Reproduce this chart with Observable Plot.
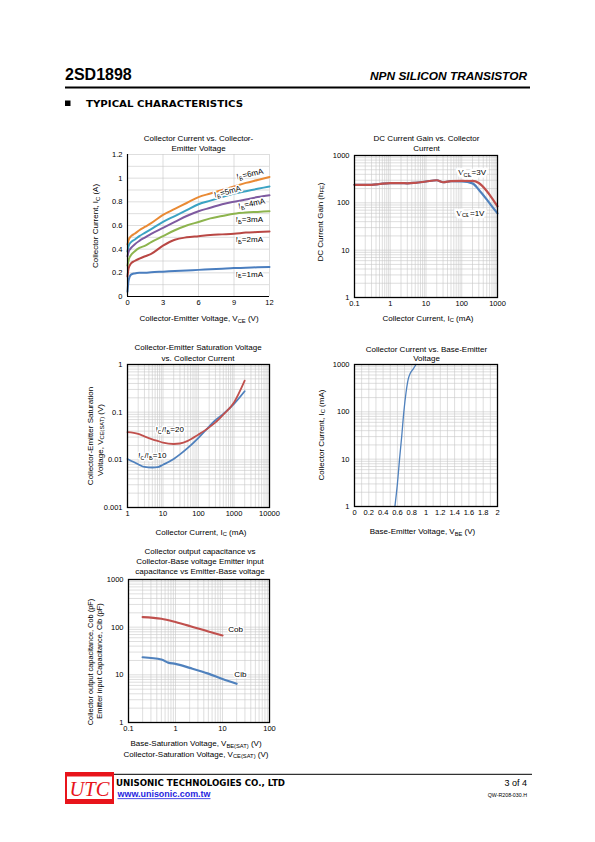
<!DOCTYPE html>
<html><head><meta charset="utf-8">
<script src="https://cdn.jsdelivr.net/npm/d3@7"></script>
<script src="https://cdn.jsdelivr.net/npm/@observablehq/plot@0.6"></script>
<style>
html,body{margin:0;padding:0;background:#fff;}
#page{position:relative;width:595px;height:842px;overflow:hidden;background:#fff;}
</style></head><body><div id="page"></div>
<script>
// ---------------- DATA ----------------
// Chart 1: Collector current vs collector-emitter voltage
const vce  = [0, 0.1, 0.3, 0.6, 1, 1.5, 2, 3, 4, 5, 6, 7, 8, 9, 10, 11, 12];
const ib6  = [0.44, 0.48, 0.51, 0.53, 0.56, 0.59, 0.62, 0.69, 0.74, 0.79, 0.84, 0.87, 0.90, 0.93, 0.96, 0.985, 1.01];
const ib5  = [0.38, 0.43, 0.46, 0.48, 0.51, 0.54, 0.57, 0.63, 0.68, 0.73, 0.78, 0.81, 0.84, 0.87, 0.89, 0.91, 0.93];
const ib4  = [0.34, 0.38, 0.41, 0.44, 0.47, 0.50, 0.53, 0.58, 0.63, 0.68, 0.72, 0.75, 0.78, 0.80, 0.82, 0.84, 0.855];
const ib3  = [0.26, 0.31, 0.35, 0.38, 0.41, 0.43, 0.46, 0.51, 0.56, 0.60, 0.63, 0.66, 0.68, 0.70, 0.71, 0.715, 0.72];
const ib2  = [0.17, 0.24, 0.28, 0.30, 0.32, 0.34, 0.36, 0.43, 0.48, 0.50, 0.51, 0.52, 0.525, 0.53, 0.54, 0.545, 0.55];
const ib1  = [0.04, 0.14, 0.185, 0.195, 0.20, 0.20, 0.205, 0.21, 0.215, 0.22, 0.225, 0.23, 0.235, 0.24, 0.243, 0.247, 0.25];
const ibNames = ["I_{B}=6mA", "I_{B}=5mA", "I_{B}=4mA", "I_{B}=3mA", "I_{B}=2mA", "I_{B}=1mA"];
const c1xTicks = [0, 3, 6, 9, 12];
const c1yTicks = [0, 0.2, 0.4, 0.6, 0.8, 1, 1.2];

// Chart 2: DC current gain vs collector current
const icGain = [0.1, 0.2, 0.3, 0.5, 1, 2, 3, 5, 10, 20, 30, 50, 100, 200, 300, 500, 700, 1000];
const hfe3V  = [240, 240, 240, 250, 262, 262, 258, 265, 282, 300, 272, 287, 291, 290, 262, 178, 126, 84];
const hfe1V  = [240, 240, 240, 250, 262, 262, 258, 265, 282, 300, 272, 287, 284, 258, 190, 118, 84, 60];
const gainNames = ["V_{CE}=3V", "V_{CE}=1V"];

// Chart 3: Vce(sat) vs collector current
const icSat  = [1, 2, 3, 5, 7, 10, 20, 30, 50, 100, 200, 300, 500, 1000, 2000];
const vsat20 = [0.038, 0.035, 0.031, 0.027, 0.025, 0.023, 0.0215, 0.022, 0.025, 0.034, 0.048, 0.061, 0.089, 0.16, 0.46];
const vsat10 = [0.0104, 0.0081, 0.0071, 0.0069, 0.0070, 0.0079, 0.0104, 0.0130, 0.0178, 0.029, 0.05, 0.068, 0.092, 0.149, 0.275];
const satNames = ["I_{C}/I_{B}=20", "I_{C}/I_{B}=10"];

// Chart 4: collector current vs base-emitter voltage
const vbe  = [0.565, 0.60, 0.63, 0.66, 0.69, 0.72, 0.75, 0.78, 0.82, 0.86];
const icBe = [1, 3, 10, 30, 100, 250, 480, 650, 800, 1000];
const c4xTicks = [0, 0.2, 0.4, 0.6, 0.8, 1, 1.2, 1.4, 1.6, 1.8, 2];

// Chart 5: capacitances
const vcb = [0.2, 0.5, 1, 2, 5, 10];
const cob = [163, 150, 128, 106, 81, 67];
const veb = [0.2, 0.5, 0.7, 1, 2, 5, 10, 20];
const cib = [23.4, 21, 18, 17, 14, 10.6, 8.2, 6.5];
const capNames = ["Cob", "Cib"];

// ---------------- HELPERS ----------------
const FONT = "'Liberation Sans', Arial, Helvetica, sans-serif";
const GRID = "#c8c8c8";
const NS = "http://www.w3.org/2000/svg";
const page = document.getElementById("page");
const pairs = (xs, ys) => xs.map((x, i) => [x, ys[i]]);

function subify(root) {
  root.querySelectorAll("text, tspan").forEach(el => {
    if (el.childElementCount) return;
    const s = el.textContent;
    if (!s || s.indexOf("_{") < 0) return;
    el.textContent = "";
    let down = false;
    s.split(/(_\{[^}]*\})/).filter(p => p).forEach(p => {
      const t = document.createElementNS(NS, "tspan");
      if (p.startsWith("_{")) {
        t.textContent = p.slice(2, -1);
        t.setAttribute("font-size", "0.72em");
        t.setAttribute("dy", down ? "0" : "0.3em");
        down = true;
      } else {
        t.textContent = p;
        if (down) { t.setAttribute("dy", "-0.216em"); down = false; }
      }
      el.appendChild(t);
    });
  });
}

// page-level svg for titles, axis labels, header, footer
const bg = document.createElementNS(NS, "svg");
bg.setAttribute("width", 595); bg.setAttribute("height", 842);
bg.style.position = "absolute"; bg.style.left = "0"; bg.style.top = "0";
page.appendChild(bg);
function T(s, x, y, o = {}) {
  const t = document.createElementNS(NS, "text");
  t.textContent = s;
  t.setAttribute("font-family", o.family || FONT);
  t.setAttribute("font-size", o.size || 8);
  if (o.weight) t.setAttribute("font-weight", o.weight);
  if (o.italic) t.setAttribute("font-style", "italic");
  t.setAttribute("fill", o.fill || "#000");
  t.setAttribute("text-anchor", o.anchor || "middle");
  if (o.len) { t.setAttribute("textLength", o.len); t.setAttribute("lengthAdjust", "spacingAndGlyphs"); }
  if (o.rot) t.setAttribute("transform", `translate(${x},${y}) rotate(${o.rot})`);
  else { t.setAttribute("x", x); t.setAttribute("y", y); }
  bg.appendChild(t);
  return t;
}
function R(x, y, w, h, fill) {
  const r = document.createElementNS(NS, "rect");
  r.setAttribute("x", x); r.setAttribute("y", y); r.setAttribute("width", w); r.setAttribute("height", h);
  r.setAttribute("fill", fill);
  bg.appendChild(r);
}
function logGrid(lo, hi) {
  const out = [];
  for (let e = Math.round(Math.log10(lo)); e < Math.round(Math.log10(hi)); e++)
    for (let k = 1; k < 10; k++) out.push(+(k * Math.pow(10, e)).toPrecision(3));
  out.push(hi);
  return out;
}
function makeChart(box, scales, marks) {
  const [x0, y0, x1, y1] = box;
  const ml = 40, mr = 15, mt = 10, mb = 20;
  const svg = Plot.plot({
    width: x1 - x0 + ml + mr, height: y1 - y0 + mt + mb,
    marginLeft: ml, marginRight: mr, marginTop: mt, marginBottom: mb,
    x: scales.x, y: scales.y,
    style: {fontFamily: FONT, fontSize: "7.5px", background: "transparent", overflow: "visible", color: "#000"},
    marks
  });
  svg.style.position = "absolute";
  svg.style.left = (x0 - ml) + "px";
  svg.style.top = (y0 - mt) + "px";
  svg.style.maxWidth = "none";
  subify(svg);
  page.appendChild(svg);
}
const gx = ticks => Plot.gridX({ticks, stroke: GRID, strokeOpacity: 1, strokeWidth: 0.6});
const gy = ticks => Plot.gridY({ticks, stroke: GRID, strokeOpacity: 1, strokeWidth: 0.6});
const ax = ticks => Plot.axisX({ticks, tickSize: 0, tickPadding: 3, label: null, tickFormat: d => String(d)});
const ay = ticks => Plot.axisY({ticks, tickSize: 0, tickPadding: 5, label: null, tickFormat: d => String(d)});
const halo = {fill: "#000", stroke: "white", strokeWidth: 3, paintOrder: "stroke", fontSize: 8, fontFamily: FONT};

// ---------------- HEADER ----------------
T("2SD1898", 65, 80, {anchor: "start", size: 16, weight: "bold"});
T("NPN SILICON TRANSISTOR", 527, 80, {anchor: "end", size: 11.5, weight: "bold", italic: true, len: 157});
R(65, 86.5, 465, 2, "#000");
R(65, 100.5, 5.5, 5.5, "#000");
T("TYPICAL CHARACTERISTICS", 86, 107, {anchor: "start", size: 8, weight: "bold", family: "'DejaVu Sans', sans-serif", len: 157});

// ---------------- CHART 1 ----------------
T("Collector Current vs. Collector-", 198.5, 141, {});
T("Emitter Voltage", 198.5, 150.7, {});
T("Collector Current, I_{C} (A)", 98, 226, {rot: -90});
T("Collector-Emitter Voltage, V_{CE} (V)", 199, 321, {});
const c1colors = ["#E98A34", "#3BA3C3", "#7E5AA0", "#8DB44E", "#B94744", "#4A7EBF"];
const c1series = [ib6, ib5, ib4, ib3, ib2, ib1];
const c1notes = [
  {x: 10.35, y: 1.035, t: ibNames[0], r: -13},
  {x: 8.45, y: 0.885, t: ibNames[1], r: -15},
  {x: 10.5, y: 0.785, t: ibNames[2], r: -12},
  {x: 10.3, y: 0.65, t: ibNames[3], r: 0},
  {x: 10.3, y: 0.48, t: ibNames[4], r: 0},
  {x: 10.3, y: 0.19, t: ibNames[5], r: 0}
];
makeChart([127, 154, 269, 296], {x: {domain: [0, 12]}, y: {domain: [0, 1.2]}}, [
  gy([0.1, 0.2, 0.3, 0.4, 0.5, 0.6, 0.7, 0.8, 0.9, 1, 1.1, 1.2]),
  gx([3, 6, 9, 12]),
  ...c1series.map((s, i) => Plot.line(pairs(vce, s), {stroke: c1colors[i], strokeWidth: 2, curve: "monotone-x"})),
  Plot.text(c1notes, {x: "x", y: "y", text: "t", rotate: "r", ...halo}),
  Plot.ruleX([0], {stroke: "#000", strokeWidth: 1.2}),
  Plot.ruleY([0], {stroke: "#000", strokeWidth: 1.2}),
  ax(c1xTicks),
  ay(c1yTicks)
]);

// ---------------- CHART 2 ----------------
T("DC Current Gain vs. Collector", 426.5, 141, {});
T("Current", 426.5, 150.7, {});
T("DC Current Gain (h_{FE})", 322.5, 222, {rot: -90});
T("Collector Current, I_{C} (mA)", 428, 320.5, {});
makeChart([354, 155, 497, 297], {x: {type: "log", domain: [0.1, 1000]}, y: {type: "log", domain: [1, 1000]}}, [
  gx(logGrid(0.1, 1000)),
  gy(logGrid(1, 1000)),
  Plot.line(pairs(icGain, hfe1V), {stroke: "#4F81BD", strokeWidth: 2.2, curve: "monotone-x"}),
  Plot.line(pairs(icGain, hfe3V), {stroke: "#C0504D", strokeWidth: 2.2, curve: "monotone-x"}),
  Plot.text([{x: 195, y: 443, t: gainNames[0]}, {x: 176, y: 61, t: gainNames[1]}], {x: "x", y: "y", text: "t", ...halo, strokeWidth: 5}),
  Plot.frame({stroke: "#000", strokeWidth: 1.3}),
  ax([0.1, 1, 10, 100, 1000]),
  ay([1, 10, 100, 1000])
]);

// ---------------- CHART 3 ----------------
T("Collector-Emitter Saturation Voltage", 198, 350, {});
T("vs. Collector Current", 198, 360.5, {});
T("Collector-Emitter Saturation", 93, 436, {rot: -90});
T("Voltage, V_{CE(SAT)} (V)", 102.5, 440, {rot: -90});
T("Collector Current, I_{C} (mA)", 201, 534.5, {});
makeChart([127, 364, 269, 507], {x: {type: "log", domain: [1, 10000]}, y: {type: "log", domain: [0.001, 1]}}, [
  gx(logGrid(1, 10000)),
  gy(logGrid(0.001, 1)),
  Plot.line(pairs(icSat, vsat10), {stroke: "#4F81BD", strokeWidth: 1.8, curve: "monotone-x"}),
  Plot.line(pairs(icSat, vsat20), {stroke: "#C0504D", strokeWidth: 1.8, curve: "monotone-x"}),
  Plot.text([{x: 15.5, y: 0.043, t: satNames[0]}, {x: 5, y: 0.0124, t: satNames[1]}], {x: "x", y: "y", text: "t", ...halo}),
  Plot.frame({stroke: "#000", strokeWidth: 1.3}),
  ax([1, 10, 100, 1000, 10000]),
  ay([0.001, 0.01, 0.1, 1])
]);

// ---------------- CHART 4 ----------------
T("Collector Current vs. Base-Emitter", 426.5, 351.5, {});
T("Voltage", 426.5, 361, {});
T("Collector Current, I_{C} (mA)", 323.5, 435, {rot: -90});
T("Base-Emitter Voltage, V_{BE} (V)", 422.5, 534, {});
makeChart([354, 364, 497, 506], {x: {domain: [0, 2]}, y: {type: "log", domain: [1, 1000]}}, [
  gx([0.1, 0.2, 0.3, 0.4, 0.5, 0.6, 0.7, 0.8, 0.9, 1, 1.1, 1.2, 1.3, 1.4, 1.5, 1.6, 1.7, 1.8, 1.9, 2]),
  gy(logGrid(1, 1000)),
  Plot.line(pairs(vbe, icBe), {stroke: "#4F81BD", strokeWidth: 1.3, curve: "monotone-x"}),
  Plot.frame({stroke: "#000", strokeWidth: 1.3}),
  ax(c4xTicks),
  ay([1, 10, 100, 1000])
]);

// ---------------- CHART 5 ----------------
T("Collector  output capacitance vs", 200, 554, {});
T("Collector-Base voltage Emitter input", 200, 564.2, {});
T("capacitance vs Emitter-Base voltage", 200, 574, {});
T("Collector output capacitance, Cob (pF)", 92.5, 662, {rot: -90, size: 7.4});
T("Emitter input Capacitance, Cib (pF)", 102, 661, {rot: -90, size: 7.4});
T("Base-Saturation Voltage, V_{BE(SAT)} (V)", 196, 746, {});
T("Collector-Saturation Voltage, V_{CE(SAT)} (V)", 196, 756.5, {});
makeChart([128, 579, 269, 722], {x: {type: "log", domain: [0.1, 100]}, y: {type: "log", domain: [1, 1000]}}, [
  gx(logGrid(0.1, 100)),
  gy(logGrid(1, 1000)),
  Plot.line(pairs(vcb, cob), {stroke: "#C0504D", strokeWidth: 2.2, curve: "monotone-x"}),
  Plot.line(pairs(veb, cib), {stroke: "#4F81BD", strokeWidth: 2.2, curve: "monotone-x"}),
  Plot.text([{x: 18.9, y: 91, t: capNames[0]}, {x: 24, y: 10.1, t: capNames[1]}], {x: "x", y: "y", text: "t", ...halo}),
  Plot.frame({stroke: "#000", strokeWidth: 1.3}),
  ax([0.1, 1, 10, 100]),
  ay([1, 10, 100, 1000])
]);

// ---------------- FOOTER ----------------
R(65, 773.8, 467, 1, "#000");
R(65, 772, 49, 32, "#E8141B");
R(67, 776.5, 45, 22.5, "#fff");
T("UTC", 89.5, 796, {size: 22, italic: true, family: "'Liberation Serif', 'DejaVu Serif', serif", fill: "#E8141B", len: 40});
T("UNISONIC TECHNOLOGIES CO., LTD", 116, 786, {anchor: "start", size: 8.2, weight: "bold", family: "'DejaVu Sans', sans-serif", len: 169});
T("www.unisonic.com.tw", 117.5, 797, {anchor: "start", size: 8.5, weight: "bold", fill: "#1F1FE0", len: 93});
R(117.5, 798.3, 93, 0.8, "#1F1FE0");
T("3 of 4", 527, 786, {anchor: "end", size: 9});
T("QW-R208-030.H", 527, 797, {anchor: "end", size: 5.3});
subify(bg);
</script></body></html>
